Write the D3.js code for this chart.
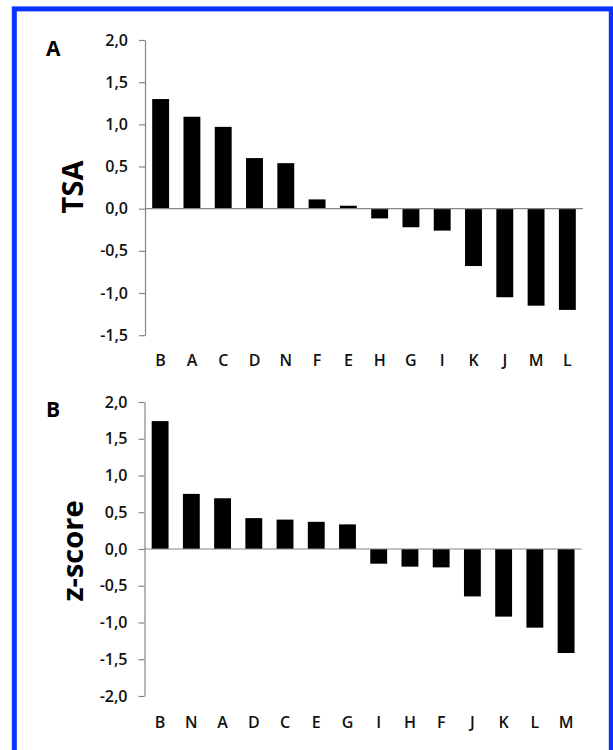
<!DOCTYPE html>
<html>
<head>
<meta charset="utf-8">
<script src="https://cdn.jsdelivr.net/npm/d3@7"></script>
<style>
  body { margin: 0; background: #fff; }
  svg { display: block; }
  .tick text, .cat { font-family: "Open Sans", sans-serif; font-weight: 600; fill: #111; }
</style>
</head>
<body>
<div id="chart"></div>
<script>
// panel A: TSA
const catsA = ["B", "A", "C", "D", "N", "F", "E", "H", "G", "I", "K", "J", "M", "L"];
const tsa = [1.30, 1.09, 0.97, 0.60, 0.54, 0.11, 0.035, -0.115, -0.22, -0.26, -0.68, -1.05, -1.15, -1.20];
const ticksA = [2.0, 1.5, 1.0, 0.5, 0.0, -0.5, -1.0, -1.5];

// panel B: z-score
const catsB = ["B", "N", "A", "D", "C", "E", "G", "I", "H", "F", "J", "K", "L", "M"];
const zscore = [1.74, 0.75, 0.69, 0.42, 0.40, 0.37, 0.335, -0.20, -0.24, -0.25, -0.645, -0.92, -1.07, -1.415];
const ticksB = [2.0, 1.5, 1.0, 0.5, 0.0, -0.5, -1.0, -1.5, -2.0];

const W = 613, H = 750;
const svg = d3.select("#chart").append("svg").attr("width", W).attr("height", H);

// blue frame
svg.append("rect")
  .attr("x", 14.3).attr("y", 8.9)
  .attr("width", 597).attr("height", 900)
  .attr("fill", "none").attr("stroke", "#0a33ff").attr("stroke-width", 5);

const fmt = v => v.toFixed(1).replace(".", ",");

function panel(cats, vals, ticks, o) {
  const y = d3.scaleLinear().domain(o.domain).range([o.yBottom, o.yTop]);
  const x = d3.scaleBand().domain(cats).range([o.x0, o.x1]).paddingInner(0.46).paddingOuter(0.23);
  const g = svg.append("g");

  g.selectAll("rect.bar")
    .data(vals)
    .join("rect")
    .attr("class", "bar")
    .attr("x", (d, i) => x(cats[i]))
    .attr("width", x.bandwidth())
    .attr("y", d => y(Math.max(0, d)))
    .attr("height", d => Math.abs(y(d) - y(0)))
    .attr("fill", "#000");

  // zero line
  g.append("line")
    .attr("x1", o.x0).attr("x2", o.x1)
    .attr("y1", y(0)).attr("y2", y(0))
    .attr("stroke", "#868686").attr("stroke-width", 1.2);

  const ax = g.append("g")
    .attr("transform", `translate(${o.x0},0)`)
    .call(d3.axisLeft(y).tickValues(ticks).tickFormat(fmt).tickSize(6).tickSizeOuter(0).tickPadding(11));
  ax.selectAll("path, line").attr("stroke", "#868686").attr("stroke-width", 1.2);
  ax.selectAll("text").attr("font-size", 16);

  g.selectAll("text.cat")
    .data(cats)
    .join("text")
    .attr("class", "cat")
    .attr("x", d => x(d) + x.bandwidth() / 2)
    .attr("y", o.labelY)
    .attr("text-anchor", "middle")
    .attr("font-size", 16)
    .text(d => d);

  g.append("text")
    .attr("x", 46).attr("y", o.letterY)
    .attr("font-family", "Open Sans, sans-serif").attr("font-weight", 700).attr("font-size", 21)
    .text(o.letter);

  g.append("text")
    .attr("transform", `translate(${o.titleX},${o.titleY}) rotate(-90)`)
    .attr("text-anchor", "middle")
    .attr("font-family", "Open Sans, sans-serif").attr("font-weight", 700).attr("font-size", 29)
    .text(o.title);
}

panel(catsA, tsa, ticksA, {
  domain: [-1.5, 2], yTop: 40, yBottom: 335.2, x0: 145, x1: 583,
  labelY: 366, letter: "A", letterY: 56, title: "TSA", titleX: 83, titleY: 187
});
panel(catsB, zscore, ticksB, {
  domain: [-2, 2], yTop: 402, yBottom: 696, x0: 144.5, x1: 581.7,
  labelY: 728, letter: "B", letterY: 417, title: "z-score", titleX: 83, titleY: 551
});
</script>
</body>
</html>
